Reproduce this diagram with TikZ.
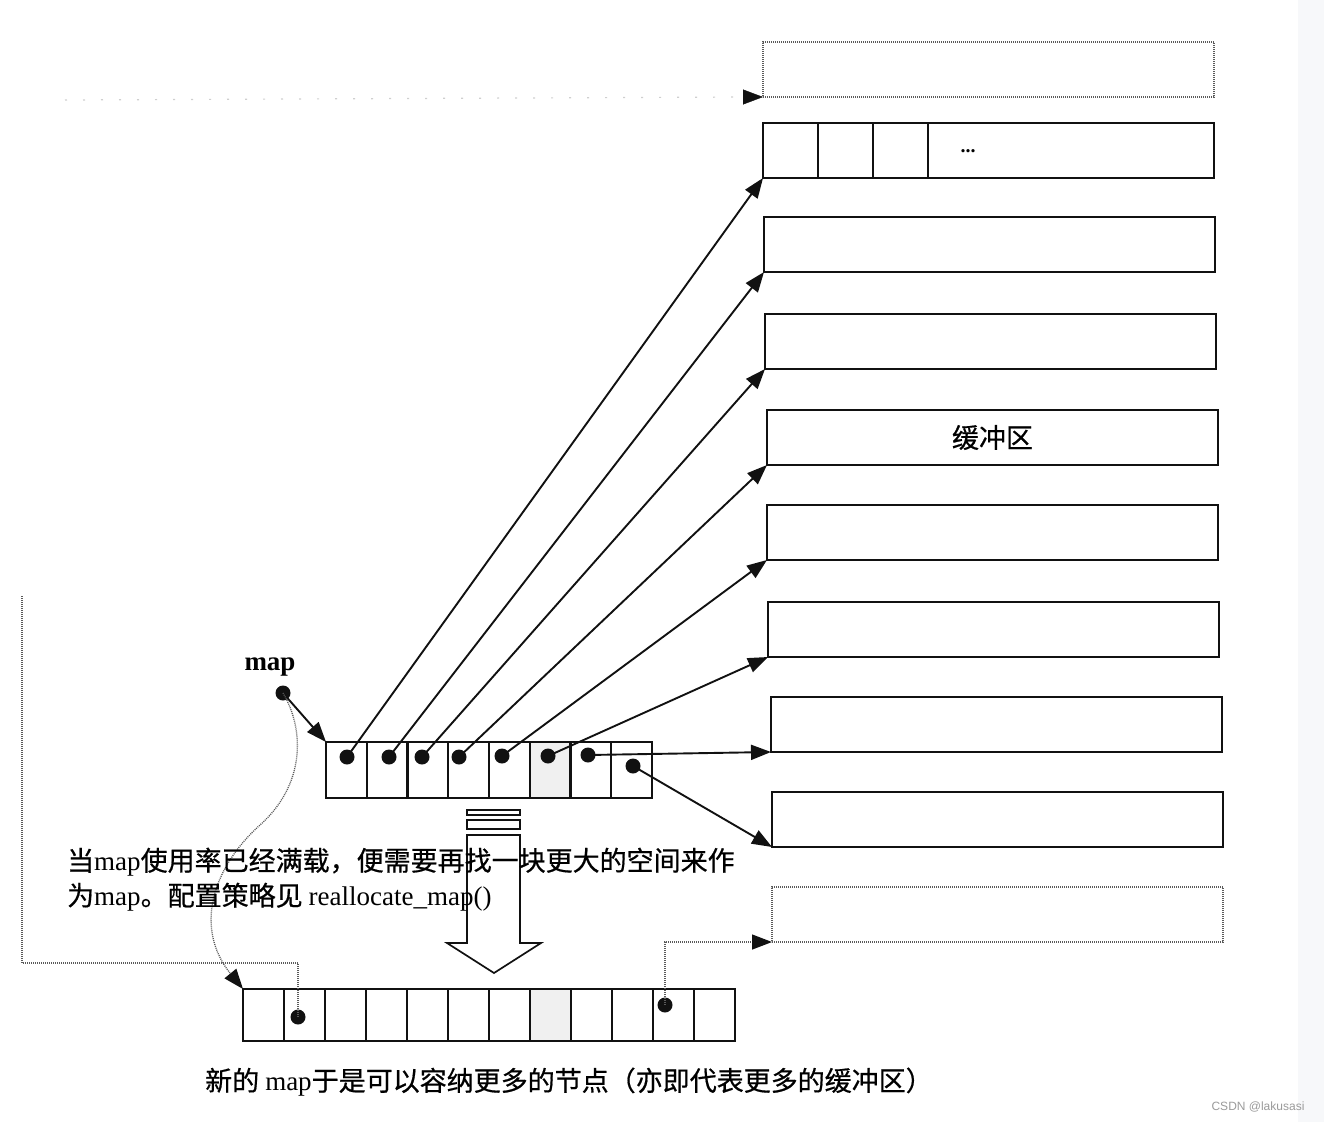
\documentclass[tikz,border=0pt]{standalone}
\usepackage{fontspec}
\setmainfont{Liberation Serif}
\newfontfamily\cjk{Noto Sans CJK SC}[FakeBold=0.6]
\newfontfamily\wmfont{Liberation Sans}
\usepackage{xcolor}
\usetikzlibrary{arrows.meta,positioning}
\definecolor{Ink}{HTML}{111111}
\definecolor{DotGray}{HTML}{5A5A5A}
\definecolor{FadeGray}{HTML}{CFCFCF}
\definecolor{Speckle}{HTML}{F0F0F0}
\definecolor{Strip}{HTML}{F7F8FA}
\definecolor{MarkGray}{HTML}{9A9A9A}

\tikzset{
  buf/.style={draw=Ink, line width=2.3pt, minimum width=451pt, minimum height=55pt,
    inner sep=0pt, outer sep=0pt, anchor=south west, font=\cjk\fontsize{27}{30}\selectfont},
  ghost/.style={buf, draw=DotGray, line width=1.3pt, dash pattern=on 1pt off 1pt},
  cell/.style={draw=Ink, line width=2.3pt, minimum width=40.75pt, minimum height=56pt,
    inner sep=0pt, outer sep=0pt},
  tip/.style={-{Triangle[length=20pt,width=15pt,color=Ink]}},
  ptr/.style={Ink, line width=1.9pt, tip},
  dotline/.style={DotGray, line width=1.3pt, dash pattern=on 1pt off 1pt},
  txt/.style={inner sep=0pt, font=\cjk\fontsize{27}{30}\selectfont},
}

\begin{document}
\begin{tikzpicture}[x=1pt, y=-1pt]
    \useasboundingbox (0,0) rectangle (1324,1122);
    \fill[Strip] (1298,0) rectangle (1324,1122);

    % Buffers on the right
    \node[ghost] (b0) at (763,97) {};
    \node[buf] (b1) at (763,178) {};
    \node[buf] (b2) at (764,272) {};
    \node[buf] (b3) at (765,369) {};
    \node[buf] (b4) at (767,465) {缓冲区};
    \node[buf] (b5) at (767,560) {};
    \node[buf] (b6) at (768,657) {};
    \node[buf] (b7) at (771,752) {};
    \node[buf] (b8) at (772,847) {};
    \node[ghost] (b9) at (772,942) {};

    % Cells of the first buffer
    \foreach \dx in {55,110,165}
        \draw[Ink, line width=2.3pt] ([xshift=\dx pt]b1.north west) -- ([xshift=\dx pt]b1.south west);
    \node[font=\bfseries\fontsize{20}{22}\selectfont] (more) at (968,151) {...};

    % Old map
    \foreach \i in {0,...,7}
        \node[cell] (old\i) at ({346.4+40.75*\i},770) {};
    \fill[Speckle] ([shift={(1pt,-1pt)}]old5.north west) rectangle ([shift={(-1pt,1pt)}]old5.south east);
    \foreach \i in {0,...,7}
        \node[cell] at (old\i) {};

    % Pointers held by the old map
    \foreach \i/\x/\y in {0/347/757, 1/389/757, 2/422/757, 3/459/757, 4/502/756, 5/548/756, 6/588/755, 7/633/766} {
        \coordinate (od\i) at (\x,\y);
        \fill[Ink] (od\i) circle (7.5pt);
    }
    \foreach \i/\j in {0/1, 1/2, 2/3, 3/4, 4/5, 5/6, 6/7, 7/8}
        \draw[ptr] (od\i) -- (b\j.south west);

    % map pointer
    \node[font=\rmfamily\bfseries\fontsize{27}{30}\selectfont] (maplbl) at (270,667) {map};
    \coordinate (mapdot) at (283,693);
    \fill[Ink] (mapdot) circle (7.5pt);
    \draw[ptr] (mapdot) -- (old0.north west);

    % Hollow arrow: old map -> new map
    \draw[Ink, line width=1.7pt] (467,810) rectangle (520,815);
    \draw[Ink, line width=1.7pt] (467,820) rectangle (520,829);
    \draw[Ink, line width=1.7pt] (467,835) -- (520,835) -- (520,943) -- (541,943)
        -- (494,973) -- (447,943) -- (467,943) -- cycle;

    % New map
    \foreach \i in {0,...,11}
        \node[cell, minimum width=41pt, minimum height=52pt] (new\i) at ({263.5+41*\i},1015) {};
    \fill[Speckle] ([shift={(1pt,-1pt)}]new7.north west) rectangle ([shift={(-1pt,1pt)}]new7.south east);
    \foreach \i in {0,...,11}
        \node[cell, minimum width=41pt, minimum height=52pt] at (new\i) {};
    \coordinate (nd1) at (298,1017);
    \coordinate (nd10) at (665,1005);
    \fill[Ink] (nd1) circle (7.5pt);
    \fill[Ink] (nd10) circle (7.5pt);

    % Dotted links
    \draw[dotline, tip] (mapdot)
        .. controls (305,730) and (305,785) .. (260,825)
        .. controls (210,870) and (195,930) .. (new0.north west);
    \coordinate (fadeL) at (22,595);
    \draw[dotline] (nd1) |- (22,963) -- (fadeL);
    \coordinate (fadeT) at (65,100);
    \draw[FadeGray, line width=1.2pt, dash pattern=on 2pt off 16pt] (fadeT) -- ([xshift=-16pt]b0.south west);
    \draw[Ink, tip] ([xshift=-17pt]b0.south west) -- (b0.south west);
    \draw[dotline, tip] (nd10) |- (b9.south west);

    % Notes
    \node[txt, anchor=west] (note1) at (67,862) {当{\rmfamily map}使用率已经满载，便需要再找一块更大的空间来作};
    \node[txt, anchor=west] (note2) at (67,897) {为{\rmfamily map}。配置策略见 {\rmfamily reallocate\_map()}};
    \node[txt, anchor=west] (note3) at (205,1082) {新的 {\rmfamily map}于是可以容纳更多的节点（亦即代表更多的缓冲区）};

    % Watermark
    \node[MarkGray, font=\wmfont\fontsize{12}{14}\selectfont] (mark) at (1258,1107) {CSDN @lakusasi};
\end{tikzpicture}
\end{document}
